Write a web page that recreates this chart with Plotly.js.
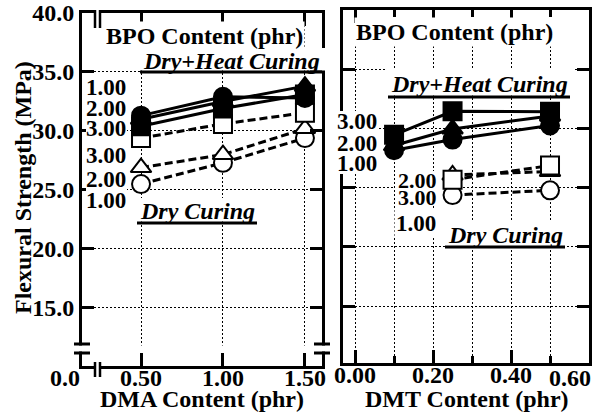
<!DOCTYPE html>
<html>
<head>
<meta charset="utf-8">
<script src="https://cdn.plot.ly/plotly-3.0.1.min.js"></script>
<style>html,body{margin:0;padding:0;background:#fff;}#chart{width:602px;height:414px;}</style>
</head>
<body>
<div id="chart"></div>
<script>
// ---- data ----
const dmaX = [0.5, 1.0, 1.5];
const dmaHeatBpo1 = [31.3, 32.9, 32.8];
const dmaHeatBpo2 = [31.0, 32.5, 33.8];
const dmaHeatBpo3 = [30.4, 31.9, 33.1];
const dmaDryBpo1 = [25.5, 27.3, 29.4];
const dmaDryBpo2 = [26.9, 28.0, 30.2];
const dmaDryBpo3 = [29.4, 30.6, 31.55];

const dmtHeatX = [0.1, 0.25, 0.5];
const dmtHeatBpo1 = [28.2, 29.1, 30.3];
const dmtHeatBpo2 = [28.6, 30.0, 31.1];
const dmtHeatBpo3 = [29.5, 31.5, 31.45];
const dmtDryX = [0.25, 0.5];
const dmtDryBpo1 = [24.4, 24.8];
const dmtDryBpo2 = [26.1, 26.4];
const dmtDryBpo3 = [25.7, 26.9];

const yTickVals = [15, 20, 25, 30, 35, 40];
const yTickText = ['15.0', '20.0', '25.0', '30.0', '35.0', '40.0'];
const dmaTickVals = [0.5, 1.0, 1.5];
const dmaTickText = ['0.50', '1.00', '1.50'];
const dmtTickVals = [0, 0.2, 0.4];
const dmtTickText = ['0.00', '0.20', '0.40'];
const dmtMinorVals = [0.1, 0.3, 0.5];

// ---- helpers ----
const W = 602, H = 414;
const px = x => x / W;
const py = y => 1 - y / H;
const FAM = 'Liberation Serif, Times New Roman, serif';
const bold = (s) => ({family: FAM, size: s, color: 'black', weight: 'bold'});

function series(x, y, xa, ya, symbol, filled, dashed) {
  return {
    x: x, y: y, xaxis: xa, yaxis: ya, type: 'scatter', mode: 'lines+markers',
    line: {color: 'black', width: 3, dash: dashed ? '8px,4px' : 'solid'},
    marker: {symbol: symbol, size: 18, color: filled ? 'black' : 'white',
             line: {color: 'black', width: 2}},
    showlegend: false, cliponaxis: false, hoverinfo: 'skip'
  };
}

const data = [
  series(dmaX, dmaDryBpo1, 'x', 'y', 'circle', false, true),
  series(dmaX, dmaDryBpo2, 'x', 'y', 'triangle-up', false, true),
  series(dmaX, dmaDryBpo3, 'x', 'y', 'square', false, true),
  series(dmaX, dmaHeatBpo1, 'x', 'y', 'circle', true, false),
  series(dmaX, dmaHeatBpo2, 'x', 'y', 'triangle-up', true, false),
  series(dmaX, dmaHeatBpo3, 'x', 'y', 'square', true, false),
  series(dmtDryX, dmtDryBpo1, 'x2', 'y2', 'circle', false, true),
  series(dmtDryX, dmtDryBpo2, 'x2', 'y2', 'triangle-up', false, true),
  series(dmtDryX, dmtDryBpo3, 'x2', 'y2', 'square', false, true),
  series(dmtHeatX, dmtHeatBpo1, 'x2', 'y2', 'circle', true, false),
  series(dmtHeatX, dmtHeatBpo2, 'x2', 'y2', 'triangle-up', true, false),
  series(dmtHeatX, dmtHeatBpo3, 'x2', 'y2', 'square', true, false)
];

const axCommon = {
  showline: true, linecolor: 'black', linewidth: 3, mirror: 'ticks',
  ticks: 'inside', tickcolor: 'black', tickwidth: 3,
  showgrid: true, gridcolor: 'black', gridwidth: 1, griddash: '2px,2px',
  zeroline: false, fixedrange: true, tickfont: bold(24)
};

const layout = {
  width: W, height: H,
  margin: {l: 0, r: 0, t: 0, b: 0},
  paper_bgcolor: 'white', plot_bgcolor: 'white',
  font: bold(24),
  xaxis: Object.assign({}, axCommon, {
    domain: [px(82), px(322)], range: [0.14, 1.604], anchor: 'y',
    tickmode: 'array', tickvals: dmaTickVals, ticktext: dmaTickText, ticklen: 13,
    ticklabelstandoff: -12
  }),
  yaxis: Object.assign({}, axCommon, {
    domain: [py(366), py(13)], range: [10.08, 40], anchor: 'x',
    tickmode: 'array', tickvals: yTickVals, ticktext: yTickText, ticklen: 12
  }),
  xaxis2: Object.assign({}, axCommon, {
    domain: [px(343), px(589)], range: [-0.031, 0.6], anchor: 'y2',
    tickmode: 'array', tickvals: dmtTickVals, ticktext: dmtTickText, ticklen: 13,
    ticklabelstandoff: -12,
    minor: {tickvals: dmtMinorVals, ticks: 'inside', ticklen: 7, tickwidth: 3, tickcolor: 'black',
            showgrid: true, gridcolor: 'black', gridwidth: 1, griddash: '2px,2px'}
  }),
  yaxis2: Object.assign({}, axCommon, {
    domain: [py(363), py(10)], range: [10.17, 40.08], anchor: 'x2',
    tickmode: 'array', tickvals: yTickVals.slice(0, 5), ticklen: 12, showticklabels: false
  }),
  shapes: [],
  annotations: []
};

function pline(x0, y0, x1, y1, w) {
  return {type: 'line', xref: 'paper', yref: 'paper', x0: px(x0), y0: py(y0), x1: px(x1), y1: py(y1),
          line: {color: 'black', width: w}, layer: 'above'};
}
function prect(x0, y0, x1, y1) {
  return {type: 'rect', xref: 'paper', yref: 'paper', x0: px(x0), y0: py(y0), x1: px(x1), y1: py(y1),
          fillcolor: 'white', line: {width: 0}, layer: 'above'};
}
const S = layout.shapes;
// y-axis break on left panel
S.push(prect(76, 345.5, 328, 351.5));
S.push(pline(74, 344, 90, 344, 3), pline(74, 353, 90, 353, 3));
S.push(pline(314, 344, 330, 344, 3), pline(314, 353, 330, 353, 3));
// x-axis breaks (top and bottom)
S.push(prect(96, 9, 99, 17), pline(95, 10, 95, 28, 2.5), pline(100, 10, 100, 28, 2.5));
S.push(prect(96, 362, 99, 371), pline(95, 362, 95, 377, 2.5), pline(100, 362, 100, 377, 2.5));
// white boxes + underlines for curing labels
S.push(prect(138, 48, 325, 70.5), pline(140, 72, 322, 72, 3));
S.push(prect(135, 198, 259, 221.5), pline(137, 223, 257, 223, 3));
S.push(prect(386, 69, 573, 95.5), pline(388, 97, 570, 97, 3));
S.push(prect(443, 222, 567, 245.5), pline(445, 247, 565, 247, 3));
// white backgrounds behind BPO level label groups
S.push(prect(86, 76, 127, 139));
S.push(prect(86, 144, 127, 211));
S.push(prect(336, 111, 379, 174));
S.push(prect(395, 171, 441, 206));

const A = layout.annotations;
const clear = 'rgba(0,0,0,0)';
function note(text, x, y, opts) {
  A.push(Object.assign({text: text, xref: 'paper', yref: 'paper', x: px(x), y: py(y),
    xanchor: 'center', yanchor: 'middle', showarrow: false, font: bold(24),
    bgcolor: clear, borderpad: 0}, opts || {}));
}
const ital = {family: FAM, size: 24, color: 'black', weight: 'bold', style: 'italic'};
// axis titles
note('DMA Content (phr)', 202, 399);
note('DMT Content (phr)', 467, 399);
note('Flexural Strength (MPa)', 23, 188, {textangle: -90});
// left panel
note('BPO Content (phr)', 204, 36, {bgcolor: 'white', borderpad: 1});
note('Dry+Heat Curing', 231, 61, {font: ital});
note('1.00', 106, 87, {font: bold(23)});
note('2.00', 106, 108, {font: bold(23)});
note('3.00', 106, 128, {font: bold(23)});
note('3.00', 106, 155, {font: bold(23)});
note('2.00', 106, 180, {font: bold(23)});
note('1.00', 106, 201, {font: bold(23)});
note('Dry Curing', 197, 211, {font: ital});
note('0.0', 65, 378);
// right panel
note('BPO Content (phr)', 454, 32, {bgcolor: 'white', borderpad: 1});
note('Dry+Heat Curing', 479, 84, {font: ital});
note('3.00', 357, 122, {font: bold(23)});
note('2.00', 357, 143, {font: bold(23)});
note('1.00', 357, 163, {font: bold(23)});
note('2.00', 417, 181, {font: bold(22)});
note('3.00', 417, 197, {font: bold(22)});
note('1.00', 416, 224, {font: bold(23), bgcolor: 'white', borderpad: 1});
note('Dry Curing', 505, 235, {font: ital});
note('0.60', 592, 378, {xanchor: 'right'});

Plotly.newPlot('chart', data, layout, {staticPlot: true, displayModeBar: false});
</script>
</body>
</html>
